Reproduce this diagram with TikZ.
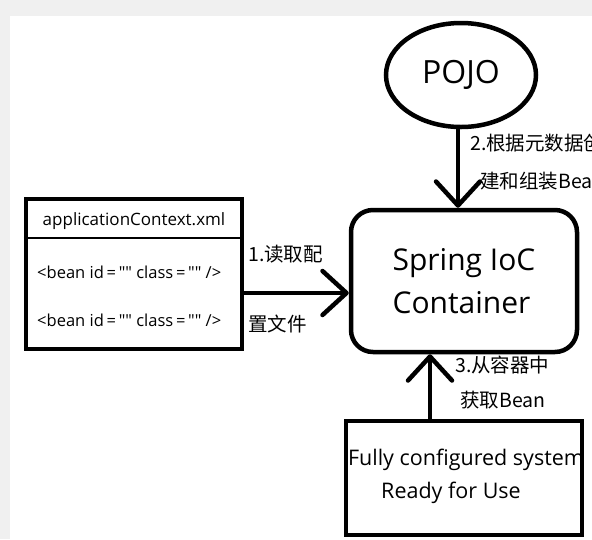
\documentclass[tikz,border=0pt]{standalone}
\usepackage{fontspec}
\setmainfont{Open Sans}
\newfontfamily\beanfont{Open Sans}
\newfontfamily\cjk{Noto Sans CJK SC}
\usetikzlibrary{arrows.meta,shapes.geometric}
\tikzset{
  thick box/.style={draw=black, line width=4.5pt, fill=white},
  arr/.style={line width=4.5pt, line join=round, -{Straight Barb[length=24pt,width=44pt,line join=round,line cap=round]}},
  lbl/.style={font=\cjk\fontsize{19.5}{20}\selectfont, inner sep=0pt},
  beanline/.style={font=\beanfont\fontsize{16.5}{17}\selectfont, inner sep=0pt, anchor=west},
}
\begin{document}
\begin{tikzpicture}[x=1pt,y=-1pt]
\useasboundingbox (0,0) rectangle (592,539);
\fill[gray!12] (0,0) rectangle (592,539);
\fill[white] (10,16) rectangle (592,539);

% POJO
\node[thick box, ellipse, minimum width=150pt, minimum height=104pt, inner sep=0pt,
      font=\fontsize{32}{34}\selectfont] (pojo) at (461,75) {POJO};

% Spring IoC container
\node[thick box, rectangle, rounded corners=22pt, minimum width=226pt, minimum height=142pt,
      align=left, font=\fontsize{30}{43}\selectfont] (ioc) at (464,281) {Spring IoC\\Container};

% applicationContext.xml
\node[thick box, rectangle, minimum width=216pt, minimum height=150pt, inner sep=0pt] (xml) at (134,274) {};
\node[font=\fontsize{17}{18}\selectfont, inner sep=0pt] (xmlhead) at (134,221) {applicationContext.xml};
\draw[line width=2pt] ([yshift=-41pt]xml.north west) -- ([yshift=-41pt]xml.north east);
\node[beanline] (bean1) at (37,272) {<bean id\,=\,"" class\,=\,"" />};
\node[beanline] (bean2) at (37,320) {<bean id\,=\,"" class\,=\,"" />};

% Fully configured system
\node[thick box, rectangle, minimum width=236pt, minimum height=114pt, inner sep=0pt] (sys) at (464,478) {};
\node[font=\fontsize{21.5}{22}\selectfont, inner sep=0pt] (sys1) at (466,460) {Fully configured system};
\node[font=\fontsize{21.5}{22}\selectfont, inner sep=0pt] (sys2) at (451,493) {Ready for Use};

% arrows
\draw[arr] ([xshift=-3pt]pojo.south) -- ([xshift=-3pt]pojo.south |- ioc.north);
\draw[arr] ([yshift=-19pt]xml.east) -- ([yshift=-19pt]xml.east -| ioc.west);
\draw[arr] ([xshift=-34pt]sys.north) -- ([xshift=-34pt]sys.north |- ioc.south);

% labels
\node[lbl, anchor=west] (l2a) at (470,143) {2.根据元数据创};
\node[lbl, anchor=west] (l2b) at (480,181) {建和组装Bean};
\node[lbl, anchor=west] (l1a) at (248,254) {1.读取配};
\node[lbl, anchor=west] (l1b) at (248,324) {置文件};
\node[lbl, anchor=west] (l3a) at (455,365) {3.从容器中};
\node[lbl, anchor=west] (l3b) at (460,400) {获取Bean};
\end{tikzpicture}
\end{document}
